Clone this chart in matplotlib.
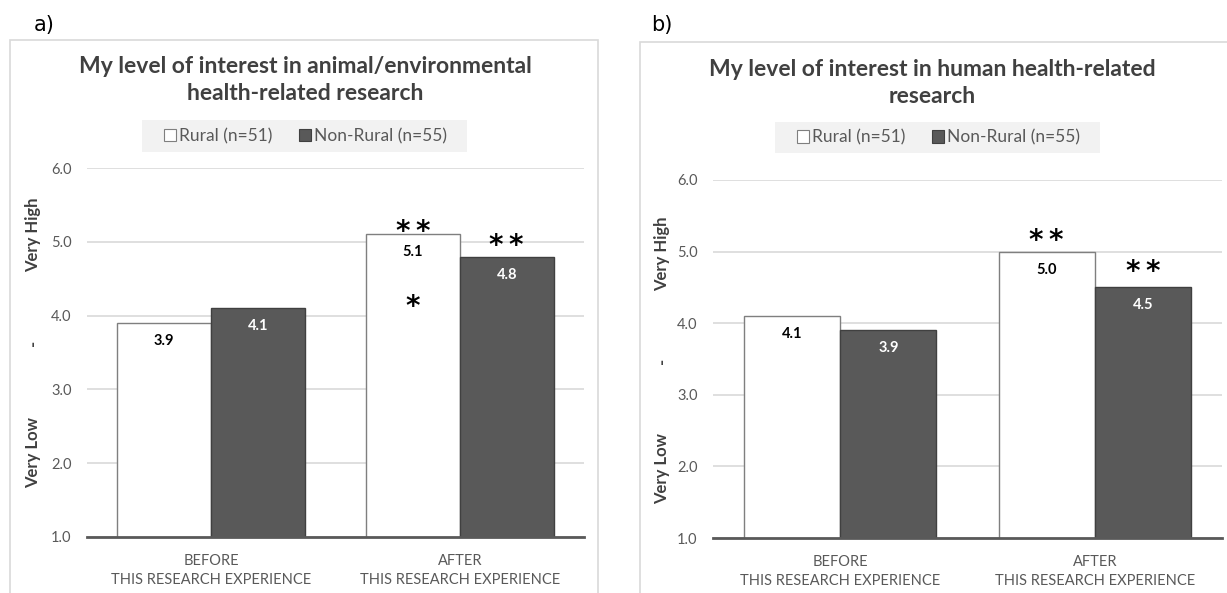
import matplotlib.pyplot as plt
from matplotlib.patches import Patch, Rectangle
from matplotlib.transforms import blended_transform_factory

plt.rcParams['font.family'] = ['Lato', 'DejaVu Sans']

# data
groups = ["BEFORE\nTHIS RESEARCH EXPERIENCE", "AFTER\nTHIS RESEARCH EXPERIENCE"]
series = ["Rural (n=51)", "Non-Rural (n=55)"]
animal_rural = [3.9, 5.1]
animal_nonrural = [4.1, 4.8]
human_rural = [4.1, 5.0]
human_nonrural = [3.9, 4.5]
titles = ["My level of interest in animal/environmental\nhealth-related research",
          "My level of interest in human health-related\nresearch"]
# significance marks: (group, series, y, text)
animal_marks = [(1, 0, 5.27, "**"), (1, 1, 5.07, "**"), (1, 0, 4.25, "*")]
human_marks = [(1, 0, 5.29, "**"), (1, 1, 4.85, "**")]

W, H = 1227, 593
fig = plt.figure(figsize=(W / 100, H / 100), dpi=100)

DARK = "#595959"
GRID = "#d9d9d9"
TXT = "#595959"
w = 0.378


def px(x0, y0, x1, y1):
    # pixel box -> figure fraction [left, bottom, width, height]
    return [x0 / W, 1 - y1 / H, (x1 - x0) / W, (y1 - y0) / H]


def panel(axbox, frame, label, labelpos, title, titlepos, legbox, rural, nonrural,
          marks, yl_x, yl_pos):
    # outer frame
    fig.patches.append(Rectangle((frame[0] / W, -0.1), (frame[1] - frame[0]) / W,
                                 1.1 - frame[2] / H, transform=fig.transFigure,
                                 fill=False, edgecolor=GRID, lw=1.2, zorder=-2))
    fig.text(labelpos[0] / W, 1 - labelpos[1] / H, label, fontsize=15,
             family='DejaVu Sans', ha='center', va='center', color='black')
    fig.text(titlepos[0] / W, 1 - titlepos[1] / H, title, fontsize=16.5,
             fontweight='bold', ha='center', va='center', color='#404040',
             linespacing=1.4)

    ax = fig.add_axes(axbox)
    ax.patch.set_alpha(0)
    x = list(range(len(groups)))
    b1 = ax.bar([i - w / 2 for i in x], rural, w, bottom=0, color='white',
                edgecolor='#7f7f7f', lw=1.0, zorder=3)
    b2 = ax.bar([i + w / 2 for i in x], nonrural, w, color=DARK,
                edgecolor='#404040', lw=1.0, zorder=3)
    for rects, vals, c in [(b1, rural, 'black'), (b2, nonrural, 'white')]:
        for r, v in zip(rects, vals):
            ax.annotate(f"{v:.1f}", (r.get_x() + r.get_width() / 2, v),
                        xytext=(0, -13), textcoords='offset points',
                        ha='center', va='center', fontsize=10.5,
                        fontweight='bold', color=c, zorder=4)
    for g, s, y, t in marks:
        xx = g - w / 2 if s == 0 else g + w / 2
        ax.annotate("\u2009".join(t), (xx, y), xytext=(0, -7),
                    textcoords='offset points', ha='center', va='center',
                    fontsize=20, fontweight='bold', family='DejaVu Sans',
                    color='black', zorder=5)

    ax.set_xlim(-0.5, 1.5)
    ax.set_ylim(1, 6)
    ax.set_yticks([1, 2, 3, 4, 5, 6])
    ax.set_yticklabels([f"{v:.1f}" for v in [1, 2, 3, 4, 5, 6]])
    ax.set_xticks(x)
    ax.set_xticklabels(groups, linespacing=1.45)
    ax.tick_params(axis='both', length=0, labelsize=10.5, colors=TXT, pad=11)
    ax.tick_params(axis='x', pad=12, labelsize=10.5)
    ax.grid(axis='y', color=GRID, lw=1.2, zorder=0)
    ax.set_axisbelow(True)
    for sp in ['top', 'right', 'left']:
        ax.spines[sp].set_visible(False)
    ax.spines['bottom'].set_color(DARK)
    ax.spines['bottom'].set_linewidth(2)
    ax.spines['bottom'].set_zorder(6)

    tr = blended_transform_factory(fig.transFigure, ax.transData)
    for t, yy in zip(["Very Low", "-", "Very High"], yl_pos):
        ax.text(yl_x / W, yy, t, transform=tr, rotation=90, ha='center',
                va='center', fontsize=12, fontweight='bold', color='#404040')

    # legend on a light grey band
    fig.patches.append(Rectangle((legbox[0] / W, 1 - legbox[3] / H),
                                 (legbox[2] - legbox[0]) / W,
                                 (legbox[3] - legbox[1]) / H,
                                 transform=fig.transFigure, facecolor='#f2f2f2',
                                 edgecolor='none', zorder=-1))
    handles = [Patch(facecolor='white', edgecolor='#7f7f7f', lw=0.8),
               Patch(facecolor=DARK, edgecolor='#404040', lw=0.8)]
    ax.legend(handles, series, ncol=2, loc='center',
              bbox_to_anchor=((legbox[0] + legbox[2]) / 2 / W + 1 / W,
                              1 - (legbox[1] + legbox[3]) / 2 / H),
              bbox_transform=fig.transFigure, frameon=False,
              fontsize=12.5, handlelength=0.7, handleheight=0.7,
              handletextpad=0.2, columnspacing=1.5, borderpad=0,
              borderaxespad=0, labelcolor=TXT)
    return ax


panel(px(87, 168, 584, 537), (10, 598, 40), "a)", (44, 25), titles[0], (305, 80),
      (142, 120, 467, 152), animal_rural, animal_nonrural, animal_marks, 33,
      [2.15, 3.63, 5.09])
panel(px(713, 180, 1222, 538), (640, 1240, 42), "b)", (662, 25), titles[1], (932, 83),
      (775, 122, 1100, 153), human_rural, human_nonrural, human_marks, 662,
      [1.97, 3.47, 4.97])

fig.savefig("out.png", dpi=100, facecolor='white')
